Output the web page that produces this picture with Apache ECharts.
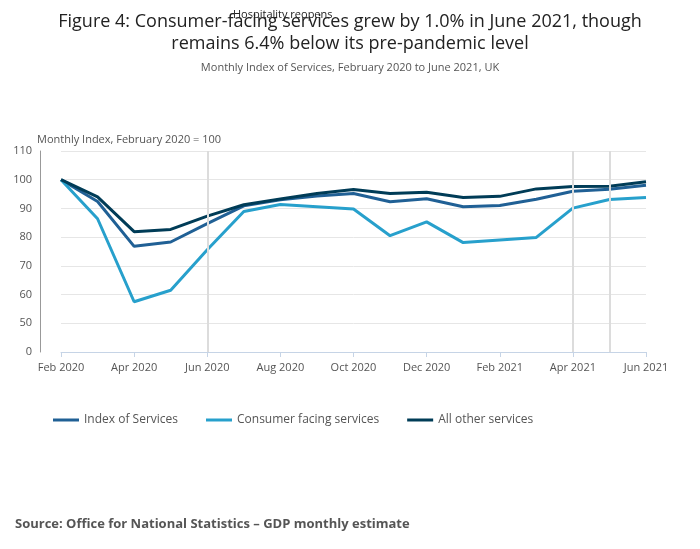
<!DOCTYPE html>
<html>
<head>
<meta charset="utf-8">
<script src="https://cdn.jsdelivr.net/npm/echarts@6/dist/echarts.min.js"></script>
<style>html,body{margin:0;padding:0;background:#fff}#chart{width:700px;height:549px}</style>
</head>
<body>
<div id="chart"></div>
<script>
var months = ['Feb 2020','Mar 2020','Apr 2020','May 2020','Jun 2020','Jul 2020','Aug 2020','Sep 2020','Oct 2020','Nov 2020','Dec 2020','Jan 2021','Feb 2021','Mar 2021','Apr 2021','May 2021','Jun 2021'];
var indexOfServices = [100, 92.4, 76.8, 78.3, 84.7, 90.9, 93.0, 94.3, 95.2, 92.3, 93.4, 90.6, 91.0, 93.2, 96.0, 96.7, 98.1];
var consumerFacing = [100, 86.4, 57.5, 61.5, 75.6, 88.9, 91.4, 90.6, 89.8, 80.5, 85.3, 78.1, 79.0, 79.9, 90.1, 93.1, 93.8];
var allOther = [100, 94.0, 81.9, 82.7, 87.3, 91.3, 93.3, 95.2, 96.6, 95.2, 95.6, 93.8, 94.2, 96.8, 97.6, 97.7, 99.3];
var eventMonths = ['Jun 2020', 'Apr 2021', 'May 2021'];

var myChart = echarts.init(document.getElementById('chart'));
var font = 'Open Sans';
function line(name, data, color, withMarks) {
    var s = {
        name: name, type: 'line', data: data, symbol: 'none',
        lineStyle: {width: 3, color: color}, itemStyle: {color: color}, z: 3
    };
    if (withMarks) {
        s.markLine = {
            symbol: 'none', silent: true, label: {show: false},
            lineStyle: {color: '#dcdcdc', type: 'solid', width: 2},
            data: eventMonths.map(function (m) { return {xAxis: m}; })
        };
    }
    return s;
}
var option = {
    textStyle: {fontFamily: font},
    title: [{
        text: 'Figure 4: Consumer-facing services grew by 1.0% in June 2021, though\nremains 6.4% below its pre-pandemic level',
        left: 'center', top: 6,
        textStyle: {fontSize: 18, fontWeight: 'normal', color: '#222', lineHeight: 22, fontFamily: font}
    }, {
        text: 'Monthly Index of Services, February 2020 to June 2021, UK',
        left: 'center', top: 57,
        textStyle: {fontSize: 11, fontWeight: 'normal', color: '#555', fontFamily: font}
    }, {
        text: 'Hospitality reopens',
        left: 228, top: 4,
        textStyle: {fontSize: 11, fontWeight: 'normal', color: '#222', fontFamily: font}
    }, {
        text: 'Source: Office for National Statistics \u2013 GDP monthly estimate',
        left: 10, top: 513,
        textStyle: {fontSize: 13, fontWeight: 'bold', color: '#555', fontFamily: font}
    }],
    legend: {
        left: 48, top: 409, itemWidth: 26, itemHeight: 3, itemGap: 28,
        icon: 'rect',
        textStyle: {fontSize: 12, color: '#555', fontFamily: font},
        data: ['Index of Services', 'Consumer facing services', 'All other services']
    },
    grid: {left: 61, right: 54, top: 151, bottom: 197},
    xAxis: {
        type: 'category', data: months, boundaryGap: false,
        axisLine: {lineStyle: {color: '#c6d4e6'}},
        axisTick: {show: true, interval: 1, lineStyle: {color: '#c6d4e6'}},
        axisLabel: {interval: 1, color: '#555', fontSize: 11, margin: 10},
        splitLine: {show: false}
    },
    yAxis: {
        type: 'value', min: 40, max: 110, interval: 10, offset: 21,
        name: 'Monthly Index, February 2020 = 100',
        nameLocation: 'end', nameGap: 2,
        nameTextStyle: {align: 'left', color: '#555', fontSize: 11, padding: [0, 0, 0, -3]},
        axisLine: {show: true, lineStyle: {color: '#999'}},
        axisLabel: {color: '#555', fontSize: 11, formatter: function (v) { return v === 40 ? '0' : v; }},
        splitLine: {lineStyle: {color: '#e6e6e6'}}
    },
    series: [
        line('Index of Services', indexOfServices, '#206095', true),
        line('Consumer facing services', consumerFacing, '#27a0cc', false),
        line('All other services', allOther, '#003c57', false)
    ]
};
myChart.setOption(option);
</script>
</body>
</html>
